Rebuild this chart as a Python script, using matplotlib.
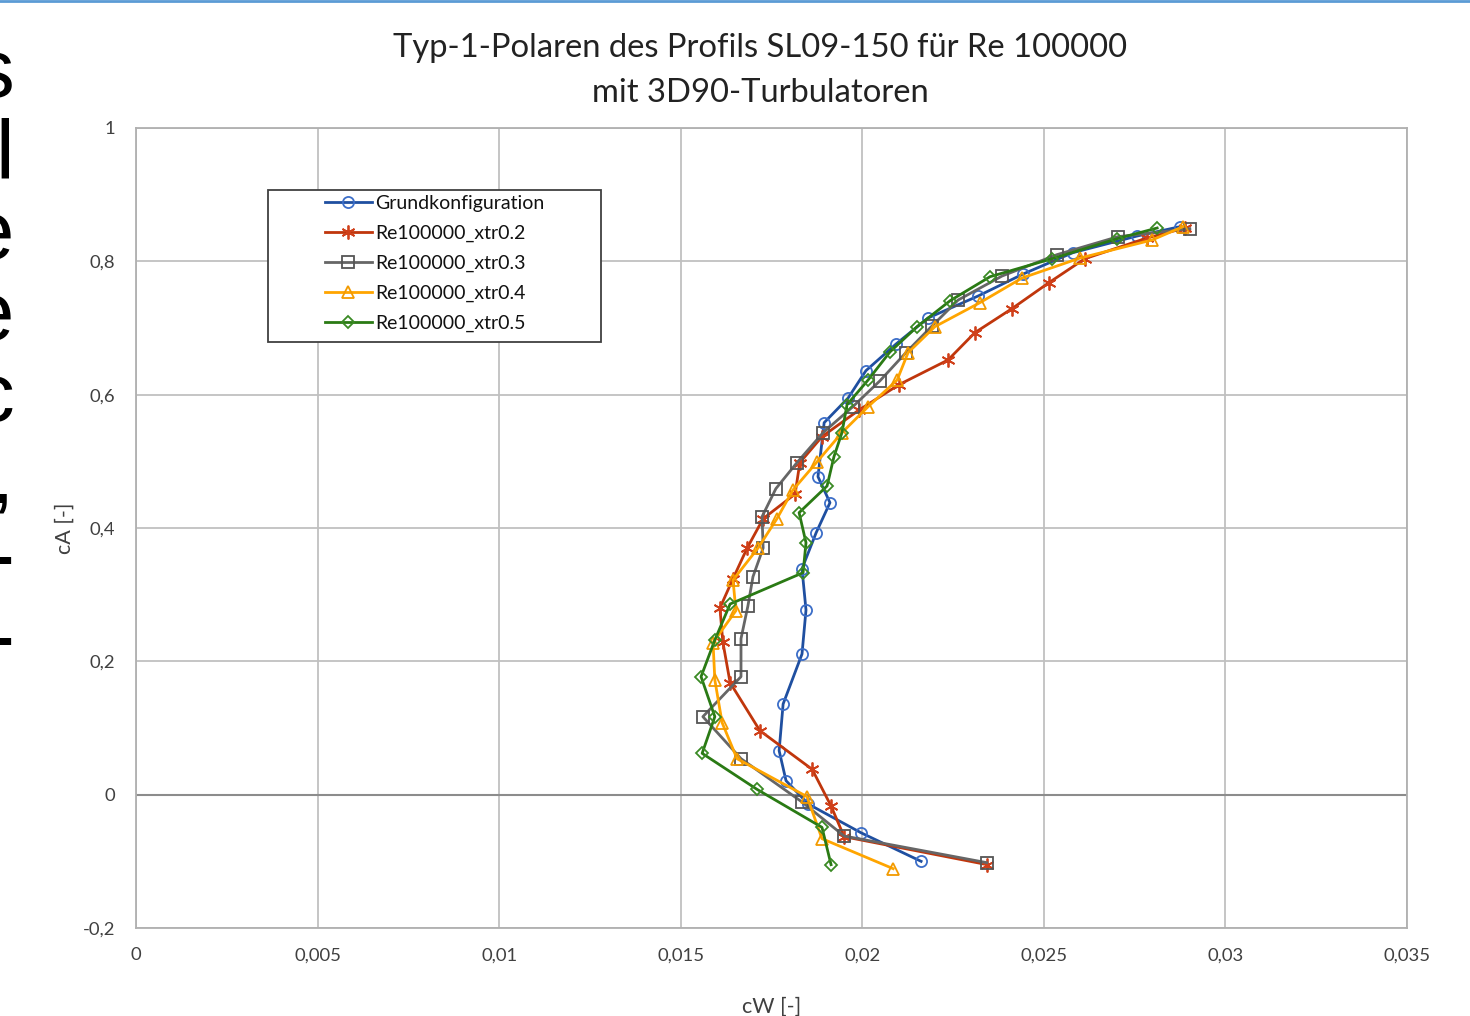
import matplotlib
matplotlib.use('Agg')
import matplotlib.pyplot as plt
from matplotlib.lines import Line2D
from matplotlib.patches import Rectangle

# Polar data (cW, cA)
cw_grund = [0.02162, 0.01996, 0.01851, 0.01790, 0.01771, 0.01782, 0.01834, 0.01845, 0.01834,
            0.01873, 0.01911, 0.01878, 0.01895, 0.01961, 0.02010, 0.02093, 0.02181, 0.02319,
            0.02443, 0.02580, 0.02757, 0.02875]
ca_grund = [-0.100, -0.057, -0.014, 0.021, 0.066, 0.136, 0.211, 0.277, 0.339,
            0.393, 0.438, 0.477, 0.558, 0.595, 0.636, 0.676, 0.715, 0.748,
            0.781, 0.813, 0.838, 0.852]

cw_xtr02 = [0.02344, 0.01950, 0.01914, 0.01862, 0.01718, 0.01636, 0.01616, 0.01608, 0.01644,
            0.01683, 0.01727, 0.01815, 0.01828, 0.01889, 0.01991, 0.02101, 0.02236, 0.02310,
            0.02412, 0.02514, 0.02613, 0.02784, 0.02889]
ca_xtr02 = [-0.105, -0.063, -0.017, 0.038, 0.096, 0.168, 0.229, 0.280, 0.324,
            0.370, 0.414, 0.451, 0.498, 0.537, 0.577, 0.615, 0.652, 0.693,
            0.729, 0.768, 0.804, 0.835, 0.850]

cw_xtr03 = [0.02343, 0.01950, 0.01834, 0.01666, 0.01561, 0.01666, 0.01666, 0.01685, 0.01699,
            0.01727, 0.01724, 0.01762, 0.01820, 0.01892, 0.01974, 0.02049, 0.02120, 0.02192,
            0.02264, 0.02385, 0.02536, 0.02704, 0.02902]
ca_xtr03 = [-0.102, -0.062, -0.011, 0.054, 0.117, 0.177, 0.234, 0.283, 0.327,
            0.370, 0.417, 0.459, 0.498, 0.543, 0.582, 0.621, 0.663, 0.703,
            0.742, 0.778, 0.810, 0.837, 0.849]

cw_xtr04 = [0.02085, 0.01889, 0.01848, 0.01655, 0.01614, 0.01594, 0.01589, 0.01652, 0.01644,
            0.01713, 0.01765, 0.01809, 0.01875, 0.01944, 0.02016, 0.02096, 0.02126, 0.02200,
            0.02324, 0.02440, 0.02600, 0.02798, 0.02883]
ca_xtr04 = [-0.111, -0.066, -0.003, 0.054, 0.108, 0.172, 0.228, 0.276, 0.322,
            0.370, 0.414, 0.457, 0.499, 0.543, 0.582, 0.622, 0.663, 0.702,
            0.738, 0.775, 0.805, 0.832, 0.852]

cw_xtr05 = [0.01914, 0.01889, 0.01710, 0.01559, 0.01594, 0.01556, 0.01594, 0.01636, 0.01837,
            0.01845, 0.01826, 0.01903, 0.01922, 0.01944, 0.01958, 0.02016, 0.02076, 0.02151,
            0.02242, 0.02352, 0.02523, 0.02702, 0.02812]
ca_xtr05 = [-0.105, -0.049, 0.008, 0.062, 0.117, 0.177, 0.232, 0.286, 0.333,
            0.378, 0.423, 0.463, 0.507, 0.543, 0.585, 0.622, 0.664, 0.702,
            0.741, 0.777, 0.804, 0.834, 0.850]

series_names = ['Grundkonfiguration', 'Re100000_xtr0.2', 'Re100000_xtr0.3',
                'Re100000_xtr0.4', 'Re100000_xtr0.5']

x_ticks = [0, 0.005, 0.01, 0.015, 0.02, 0.025, 0.03, 0.035]
x_ticklabels = ['0', '0,005', '0,01', '0,015', '0,02', '0,025', '0,03', '0,035']
y_ticks = [-0.2, 0, 0.2, 0.4, 0.6, 0.8, 1.0]
y_ticklabels = ['-0,2', '0', '0,2', '0,4', '0,6', '0,8', '1']

# cut-off letters of the neighbouring slide text at the left edge
side_chars = ['s', 'l', 'e', 'e', 'c', ',', '-', '-']

plt.rcParams['font.family'] = ['Lato', 'DejaVu Sans']

W, H = 1470, 1016
fig = plt.figure(figsize=(W / 100, H / 100), dpi=100)
ax_l, ax_r, ax_t, ax_b = 136, 1407, 128, 928
ax = fig.add_axes([ax_l / W, 1 - ax_b / H, (ax_r - ax_l) / W, (ax_b - ax_t) / H])

styles = [
    dict(color='#1F4FA0', marker='o', mec='#3C6EC8', ms=8),
    dict(color='#C0360C', marker=(6, 2, 0), mec='#D0401A', ms=10),
    dict(color='#666666', marker='s', mec='#555555', ms=8),
    dict(color='#FFA500', marker='^', mec='#F29A00', ms=9),
    dict(color='#2A7A14', marker='D', mec='#3A8A24', ms=6.5),
]
data = [(cw_grund, ca_grund), (cw_xtr02, ca_xtr02), (cw_xtr03, ca_xtr03),
        (cw_xtr04, ca_xtr04), (cw_xtr05, ca_xtr05)]

for (cw, ca), name, st in zip(data, series_names, styles):
    ax.plot(cw, ca, label=name, lw=2.0, mfc='none', mew=1.3, **st)

ax.set_xlim(0, 0.035)
ax.set_ylim(-0.2, 1.0)
ax.set_xticks(x_ticks)
ax.set_xticklabels(x_ticklabels)
ax.set_yticks(y_ticks)
ax.set_yticklabels(y_ticklabels)
ax.tick_params(length=0, labelsize=13.3, colors='#404040')
ax.tick_params(axis='x', pad=14)
ax.tick_params(axis='y', pad=15)
ax.grid(True, color='#C0C0C0', lw=1.3)
ax.set_axisbelow(True)
for sp in ax.spines.values():
    sp.set_color('#B0B0B0')
    sp.set_linewidth(1.3)
ax.axhline(0, color='#8C8C8C', lw=1.5, zorder=1)

ax.set_xlabel('cW [-]', fontsize=15.5, color='#404040', labelpad=24)
ax.set_ylabel('cA [-]', fontsize=15.5, color='#404040', labelpad=6)

fig.text(760 / W, 1 - 48 / H, 'Typ-1-Polaren des Profils SL09-150 für Re 100000',
         ha='center', va='center', fontsize=23.6, color='#222222')
fig.text(760 / W, 1 - 93 / H, 'mit 3D90-Turbulatoren',
         ha='center', va='center', fontsize=23.6, color='#222222')

# legend: entries without frame, box drawn separately (Excel-style padding)
def to_axes(px, py):
    return (px - ax_l) / (ax_r - ax_l), 1 - (py - ax_t) / (ax_b - ax_t)

leg = ax.legend(loc='upper left', bbox_to_anchor=to_axes(325, 195),
                fontsize=14, frameon=False, handlelength=2.4,
                handletextpad=0.2, labelspacing=0.66, borderpad=0, borderaxespad=0)
for t in leg.get_texts():
    t.set_color('#111111')
x0, y1 = to_axes(268, 190)
x1, y0 = to_axes(601, 342)
ax.add_patch(Rectangle((x0, y0), x1 - x0, y1 - y0, transform=ax.transAxes,
                       fill=True, facecolor='white', edgecolor='#404040', lw=1.3, zorder=4))
leg.set_zorder(5)

# left-edge clipped text column (one multi-line text) and top border line
fig.text(14 / W, 1 - 36 / H, '\n'.join(side_chars), ha='right', va='top',
         multialignment='right', fontsize=60, linespacing=1.05,
         family='Liberation Sans', color='black')
fig.add_artist(Line2D([0, 1], [1 - 1 / H, 1 - 1 / H], color='#5B9BD5', lw=2))

fig.savefig('out.png', dpi=100)
